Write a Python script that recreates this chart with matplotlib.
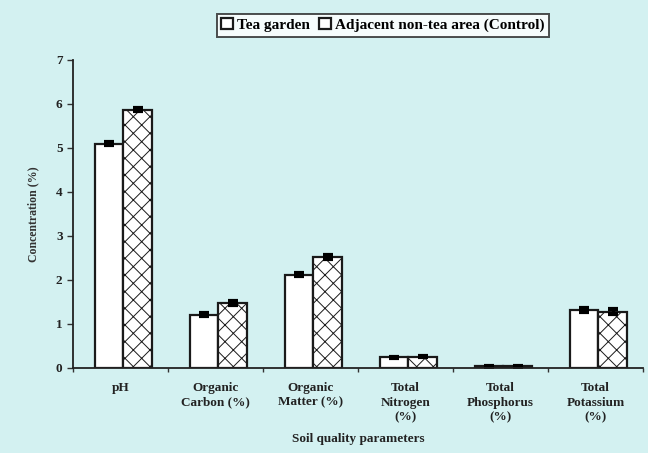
import matplotlib
matplotlib.use("Agg")
import matplotlib.pyplot as plt
import numpy as np

categories = ["pH", "Organic\nCarbon (%)", "Organic\nMatter (%)", "Total\nNitrogen\n(%)",
              "Total\nPhosphorus\n(%)", "Total\nPotassium\n(%)"]
tea_garden = [5.10, 1.21, 2.12, 0.24, 0.04, 1.32]
tea_err = [0.04, 0.03, 0.04, 0.02, 0.01, 0.05]
control = [5.87, 1.48, 2.52, 0.26, 0.04, 1.28]
control_err = [0.04, 0.05, 0.05, 0.02, 0.01, 0.05]
series_names = ["Tea garden", "Adjacent non-tea area (Control)"]

plt.rcParams['font.family'] = ['Liberation Serif', 'DejaVu Serif']
plt.rcParams['font.weight'] = 'bold'
plt.rcParams['hatch.linewidth'] = 0.7
plt.rcParams['hatch.color'] = '#555555'

bg = '#d3f1f1'
fig = plt.figure(figsize=(6.48, 4.53), dpi=100, facecolor=bg)
ax = fig.add_axes([73/648, 1-368/453, (643-73)/648, (368-60)/453])
ax.set_facecolor(bg)

x = np.arange(len(categories)) + 0.53
w = 0.3
ekw = dict(ecolor='black', elinewidth=2, capsize=3.5, capthick=3)
b1 = ax.bar(x - w/2, tea_garden, w, color='white', edgecolor='#1a1a1a', linewidth=1.6,
            yerr=tea_err, error_kw=ekw, label=series_names[0])
b2 = ax.bar(x + w/2, control, w, color='white', edgecolor='#1a1a1a', linewidth=1.6,
            hatch='xx', yerr=control_err, error_kw=ekw, label=series_names[1])

ax.set_xlim(0, len(categories))
ax.set_ylim(0, 7)
ax.set_yticks(range(0, 8))
ax.set_xticks(np.arange(0, len(categories) + 1))
ax.set_xticklabels([])
ax.set_xticks(np.arange(len(categories)) + 0.5, minor=True)
ax.set_xticklabels(categories, minor=True, fontsize=9.5, fontweight='bold', color='#222222',
                   linespacing=1.3)
ax.tick_params(axis='x', which='minor', length=0, pad=10)
ax.tick_params(axis='x', which='major', length=3, width=1, color='#333333')
ax.tick_params(axis='y', labelsize=9.5, length=4, width=1, color='#333333', labelcolor='#222222')
for s in ['top', 'right']:
    ax.spines[s].set_visible(False)
for s in ['left', 'bottom']:
    ax.spines[s].set_linewidth(1.3)
    ax.spines[s].set_color('#222222')

ax.set_ylabel("Concentration (%)", fontsize=8.5, fontweight='bold', color='#333333', labelpad=12)
fig.text(358/648, 1-439/453, "Soil quality parameters", ha='center', va='center',
         fontsize=9.5, fontweight='bold', color='#222222')

leg = fig.legend(handles=[b1, b2], labels=series_names, loc='upper center',
                 bbox_to_anchor=(383/648, 1-6/453), ncol=2, frameon=True, fancybox=False,
                 edgecolor='#222222', facecolor='white',
                 handlelength=0.75, handleheight=0.75, handletextpad=0.3, columnspacing=0.6,
                 borderpad=0.3, prop={'weight': 'bold', 'size': 11})
leg.get_frame().set_linewidth(1.4)
for h in leg.legend_handles:
    h.set_hatch(None)

fig.savefig("out.png", dpi=100, facecolor=bg)
